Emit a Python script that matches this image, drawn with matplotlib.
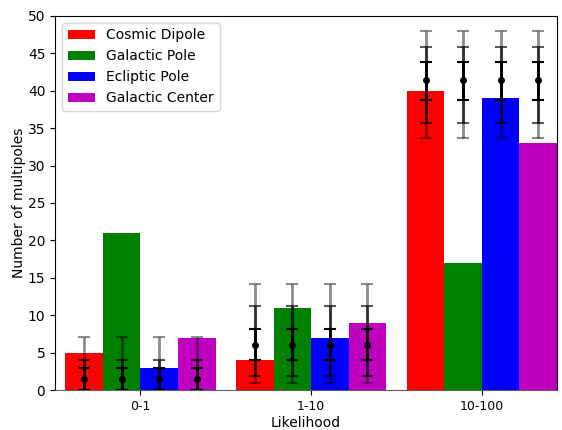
import numpy as np
import matplotlib
matplotlib.use("Agg")
import matplotlib.pyplot as plt

categories = ["0-1", "1-10", "10-100"]
labels = ["Cosmic Dipole", "Galactic Pole", "Ecliptic Pole", "Galactic Center"]
colors = ["r", "g", "b", "m"]
counts = [
    [5, 4, 40],
    [21, 11, 17],
    [3, 7, 39],
    [7, 9, 33],
]

# expected value and 1/2/3 sigma ranges per likelihood bin
expected = [1.5, 6.0, 41.5]
sig1_lo = [0.0, 4.0, 38.8]
sig1_hi = [3.0, 8.1, 43.9]
sig2_lo = [0.0, 1.9, 35.7]
sig2_hi = [4.0, 11.2, 45.9]
sig3_lo = [0.0, 1.0, 33.7]
sig3_hi = [7.1, 14.2, 48.0]

width = 0.22
x = np.arange(len(categories))

fig = plt.figure(figsize=(5.62, 4.30), dpi=100)
ax = fig.add_axes([0.098, 0.093, 0.893, 0.870])

for i, (lab, col) in enumerate(zip(labels, colors)):
    pos = x + (i - 1.5) * width
    ax.bar(pos, counts[i], width, color=col, label=lab)
    exp = np.array(expected)
    for lo, hi, a in [(sig3_lo, sig3_hi, 0.45), (sig2_lo, sig2_hi, 0.65), (sig1_lo, sig1_hi, 1.0)]:
        yerr = [exp - np.array(lo), np.array(hi) - exp]
        ax.errorbar(pos, exp, yerr=yerr, fmt="none", ecolor="k", elinewidth=2,
                    capsize=4, capthick=1.5, alpha=a)
    ax.plot(pos, exp, "o", color="k", ms=4)

ax.set_xticks(x)
ax.set_xticklabels(categories, fontsize=9)
ax.set_xlim(-0.5, 2 + 2 * width)
ax.set_ylim(0, 50)
ax.set_yticks(range(0, 51, 5))
ax.spines["bottom"].set_color("#606060")
ax.set_xlabel("Likelihood", labelpad=2)
ax.set_ylabel("Number of multipoles", labelpad=1)
ax.legend(loc="upper left")

fig.savefig("out.png", dpi=100)
